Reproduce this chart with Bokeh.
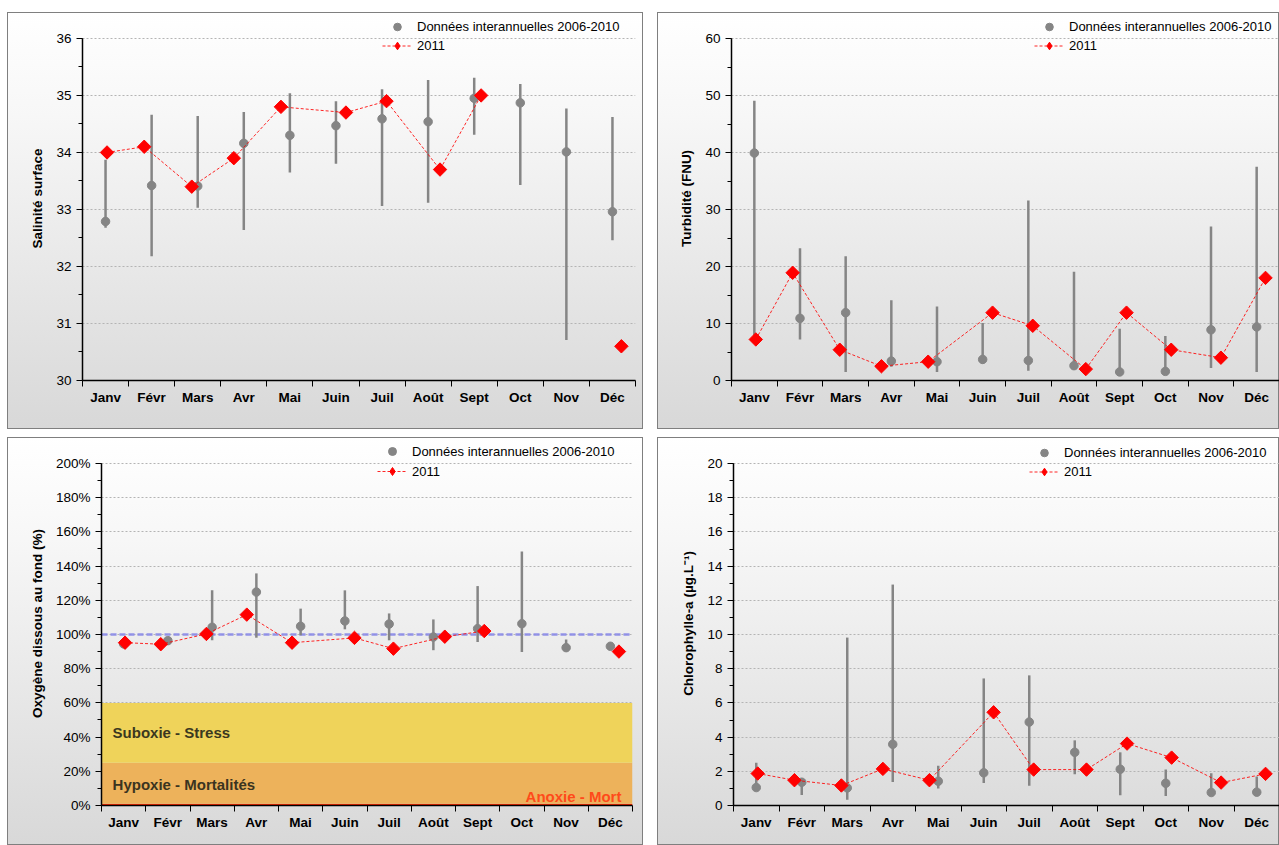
import numpy as np
from bokeh.plotting import figure
from bokeh.layouts import row, column
from bokeh.models import (Range1d, FixedTicker, Legend, LegendItem, Span, Label,
                          PrintfTickFormatter, ColumnDataSource)
from bokeh.embed import file_html
from bokeh.resources import INLINE

# ---------------- data ----------------
months = ["Janv", "Févr", "Mars", "Avr", "Mai", "Juin", "Juil", "Août", "Sept", "Oct", "Nov", "Déc"]
days_in_month = [31, 28, 31, 30, 31, 30, 31, 31, 30, 31, 30, 31]
sample_day_2011 = [17, 10, 12, 9, 10, 22, 19, 24, 20, 20, 22, 22]   # sampling day of month in 2011

legend_hist = "Données interannuelles 2006-2010"
legend_2011 = "2011"

# Salinité surface
sal_mean = [32.79, 33.42, 33.41, 34.16, 34.30, 34.47, 34.59, 34.54, 34.95, 34.87, 34.01, 32.96]
sal_min = [32.68, 32.18, 33.03, 32.64, 33.65, 33.80, 33.06, 33.12, 34.31, 33.43, 30.71, 32.46]
sal_max = [33.87, 34.66, 34.64, 34.71, 35.04, 34.90, 35.11, 35.27, 35.31, 35.20, 34.77, 34.62]
sal_2011 = [34.0, 34.1, 33.4, 33.9, 34.8, 34.7, 34.9, 33.7, 35.0, np.nan, np.nan, 30.6]

# Turbidité (FNU)
tur_mean = [39.9, 10.9, 11.9, 3.4, 3.3, 3.7, 3.5, 2.6, 1.5, 1.6, 8.9, 9.4]
tur_min = [7.8, 7.2, 1.5, 2.4, 1.5, 3.0, 1.7, 2.1, 1.2, 1.2, 2.2, 1.5]
tur_max = [49.1, 23.2, 21.8, 14.1, 13.0, 10.1, 31.6, 19.1, 9.1, 7.8, 27.0, 37.5]
tur_2011 = [7.2, 18.9, 5.4, 2.5, 3.3, 11.9, 9.6, 2.0, 11.9, 5.4, 4.0, 18.0]

# Oxygène dissous au fond (%)
oxy_mean = [94.5, 96.4, 104.2, 124.8, 104.8, 107.9, 106.1, 98.5, 103.4, 106.3, 92.3, 93.1]
oxy_min = [93.5, 95.5, 96.6, 98.1, 99.5, 103.0, 96.6, 90.8, 95.6, 89.8, 92.3, 92.5]
oxy_max = [95.5, 97.5, 125.8, 135.7, 115.1, 125.8, 112.3, 108.8, 128.3, 148.5, 97.1, 94.0]
oxy_2011 = [95.2, 94.3, 100.3, 111.6, 95.2, 98.0, 91.7, 98.7, 102.0, np.nan, np.nan, 90.0]
oxy_ref = 100
zone_names = ["Anoxie - Mort", "Hypoxie - Mortalités", "Suboxie - Stress"]
zone_low = [0, 1, 25]
zone_high = [1, 25, 60]

# Chlorophylle-a
chl_mean = [1.05, 1.36, 1.03, 3.58, 1.42, 1.91, 4.88, 3.11, 2.12, 1.30, 0.76, 0.78]
chl_min = [1.00, 0.62, 0.33, 1.38, 0.99, 1.32, 1.15, 1.83, 0.60, 0.56, 0.70, 0.75]
chl_max = [2.50, 1.58, 9.82, 12.92, 2.33, 7.43, 7.61, 3.81, 3.11, 2.10, 1.89, 1.70]
chl_2011 = [1.87, 1.48, 1.17, 2.14, 1.48, 5.45, 2.10, 2.10, 3.62, 2.80, 1.34, 1.85]

# ---------------- styling ----------------
FONT = "Liberation Sans"
GREY = "#858585"
RED = "#ff0000"
zone_colors = ["#ff2a00", "#edb25b", "#efd35a"]
FRAME_TOP = 4   # frame starts near the panel top so the legend can sit above the axis

n = len(months)
x_center = [i + 0.5 for i in range(n)]
x_2011 = [i + (d - 0.5) / dm for i, (d, dm) in enumerate(zip(sample_day_2011, days_in_month))]


def make_panel(width, height, borders, ylim, ystep, yminor, ylabel,
               mean, lo, hi, y2011, leg_xy, row_h, fmt=None, extra=None):
    left, right, top_axis, bottom = borders
    y0, y1 = ylim
    axis_px = height - top_axis - bottom
    y_end = y1 + (y1 - y0) * (top_axis - FRAME_TOP) / axis_px
    p = figure(width=width, height=height, output_backend="svg", toolbar_location=None,
               x_range=Range1d(0, n), y_range=Range1d(y0, y_end),
               min_border_left=left, min_border_right=right,
               min_border_top=FRAME_TOP, min_border_bottom=bottom)
    p.border_fill_color = None
    p.background_fill_color = None
    p.outline_line_color = None
    p.styles = {"background": "linear-gradient(to bottom, #ffffff 0%, #f7f7f7 25%, #d8d8d8 100%)",
                "outline": "1px solid #7f7f7f", "outline-offset": "-1px"}

    yt = list(np.arange(y0, y1 + ystep / 2, ystep))
    ym = list(np.arange(y0, y1 + yminor / 2, yminor))

    # x axis: boundary ticks (minor), labels at centres
    xa = p.xaxis[0]
    xa.ticker = FixedTicker(ticks=x_center, minor_ticks=list(range(n + 1)))
    xa.major_label_overrides = {x: m for x, m in zip(x_center, months)}
    xa.major_tick_line_color = None
    xa.major_tick_out = 0
    xa.major_tick_in = 0
    xa.minor_tick_out = 6
    xa.minor_tick_in = 0
    xa.minor_tick_line_color = "black"
    xa.axis_line_color = "black"
    xa.axis_line_width = 1.5
    xa.major_label_text_font = FONT
    xa.major_label_text_font_style = "bold"
    xa.major_label_text_font_size = "13.5px"
    xa.major_label_text_color = "black"
    xa.major_label_standoff = 3

    ya = p.yaxis[0]
    ya.bounds = (y0, y1)
    ya.ticker = FixedTicker(ticks=yt, minor_ticks=ym)
    ya.major_tick_out = 6
    ya.major_tick_in = 0
    ya.minor_tick_out = 4
    ya.minor_tick_in = 0
    ya.major_tick_line_color = "black"
    ya.minor_tick_line_color = "black"
    ya.axis_line_color = "black"
    ya.axis_line_width = 1.5
    ya.major_label_text_font = FONT
    ya.major_label_text_font_size = "13.5px"
    ya.major_label_text_color = "black"
    ya.major_label_standoff = 5
    ya.axis_label = ylabel
    ya.axis_label_text_font = FONT
    ya.axis_label_text_font_style = "bold"
    ya.axis_label_text_font_size = "13.5px"
    ya.axis_label_text_color = "black"
    ya.axis_label_standoff = 8
    if fmt is not None:
        ya.formatter = fmt

    p.xgrid.visible = False
    p.ygrid.ticker = FixedTicker(ticks=yt)
    p.ygrid.grid_line_color = "#b4b4b4"
    p.ygrid.grid_line_dash = "2 2"
    p.ygrid.grid_line_width = 1

    if extra is not None:
        extra(p)

    src = ColumnDataSource(dict(x=x_center, mean=mean, lo=lo, hi=hi))
    p.segment(x0="x", y0="lo", x1="x", y1="hi", source=src, line_color=GREY, line_width=2.5)
    pts = p.scatter("x", "mean", source=src, size=8.5, color=GREY)

    src2 = ColumnDataSource(dict(x=x_2011, y=y2011))
    rl = p.line("x", "y", source=src2, line_color=RED, line_width=1, line_dash="3 2", line_alpha=0.85)
    # inner diamond (hidden under the rotated square on the plot, shown in the legend)
    rd_leg = p.scatter("x", "y", source=src2, marker="diamond", size=11, color=RED)
    p.scatter("x", "y", source=src2, marker="square", angle=np.pi / 4, size=9.5, color=RED)

    leg = Legend(items=[LegendItem(label=legend_hist, renderers=[pts]),
                        LegendItem(label=legend_2011, renderers=[rl, rd_leg])],
                 location=leg_xy)
    leg.background_fill_alpha = 0
    leg.border_line_color = None
    leg.padding = 0
    leg.margin = 0
    leg.spacing = 0
    leg.glyph_width = 30
    leg.glyph_height = row_h
    leg.label_height = row_h
    leg.label_standoff = 5
    leg.label_text_font = FONT
    leg.label_text_font_size = "13px"
    leg.label_text_color = "black"
    p.add_layout(leg)
    return p


def oxy_extras(p):
    p.quad(left=0, right=n, bottom=zone_low, top=zone_high, color=zone_colors, line_color=None)
    sp = Span(location=oxy_ref, dimension="width", line_color="#8a8ae8", line_width=2.5,
              line_dash="6 3", line_alpha=0.9)
    sp.level = "underlay"
    p.add_layout(sp)
    style = dict(text_font=FONT, text_font_style="bold", text_font_size="15px",
                 text_baseline="middle")
    p.add_layout(Label(x=0.25, y=(zone_low[2] + zone_high[2]) / 2, text=zone_names[2],
                       text_color="#3b3820", **style))
    p.add_layout(Label(x=0.25, y=(zone_low[1] + zone_high[1]) / 2 - 0.5, text=zone_names[1],
                       text_color="#3b3420", **style))
    p.add_layout(Label(x=n - 0.25, y=5.2, text=zone_names[0], text_color="#ff4a1a",
                       text_align="right", **style))


p1 = make_panel(636, 417, (75, 8, 26, 48), (30, 36), 1, 0.5, "Salinité surface",
                sal_mean, sal_min, sal_max, sal_2011, (300, 325), 19)
p2 = make_panel(622, 417, (74, 0, 26, 49), (0, 60), 10, 5, "Turbidité (FNU)",
                tur_mean, tur_min, tur_max, tur_2011, (303, 325), 19)
p3 = make_panel(636, 408, (94, 11, 26, 39), (0, 200), 20, 10, "Oxygène dissous au fond (%)",
                oxy_mean, oxy_min, oxy_max, oxy_2011, (276, 324), 20,
                fmt=PrintfTickFormatter(format="%d%%"), extra=oxy_extras)
p4 = make_panel(622, 408, (76, 0, 26, 40), (0, 20), 2, 1, "Chlorophylle-a (µg.L⁻¹)",
                chl_mean, chl_min, chl_max, chl_2011, (296, 324), 19)

layout = column(row(p1, p2, spacing=14), row(p3, p4, spacing=14), spacing=8,
                margin=(12, 0, 0, 7))

open("out.html", "w").write(file_html(layout, INLINE))
